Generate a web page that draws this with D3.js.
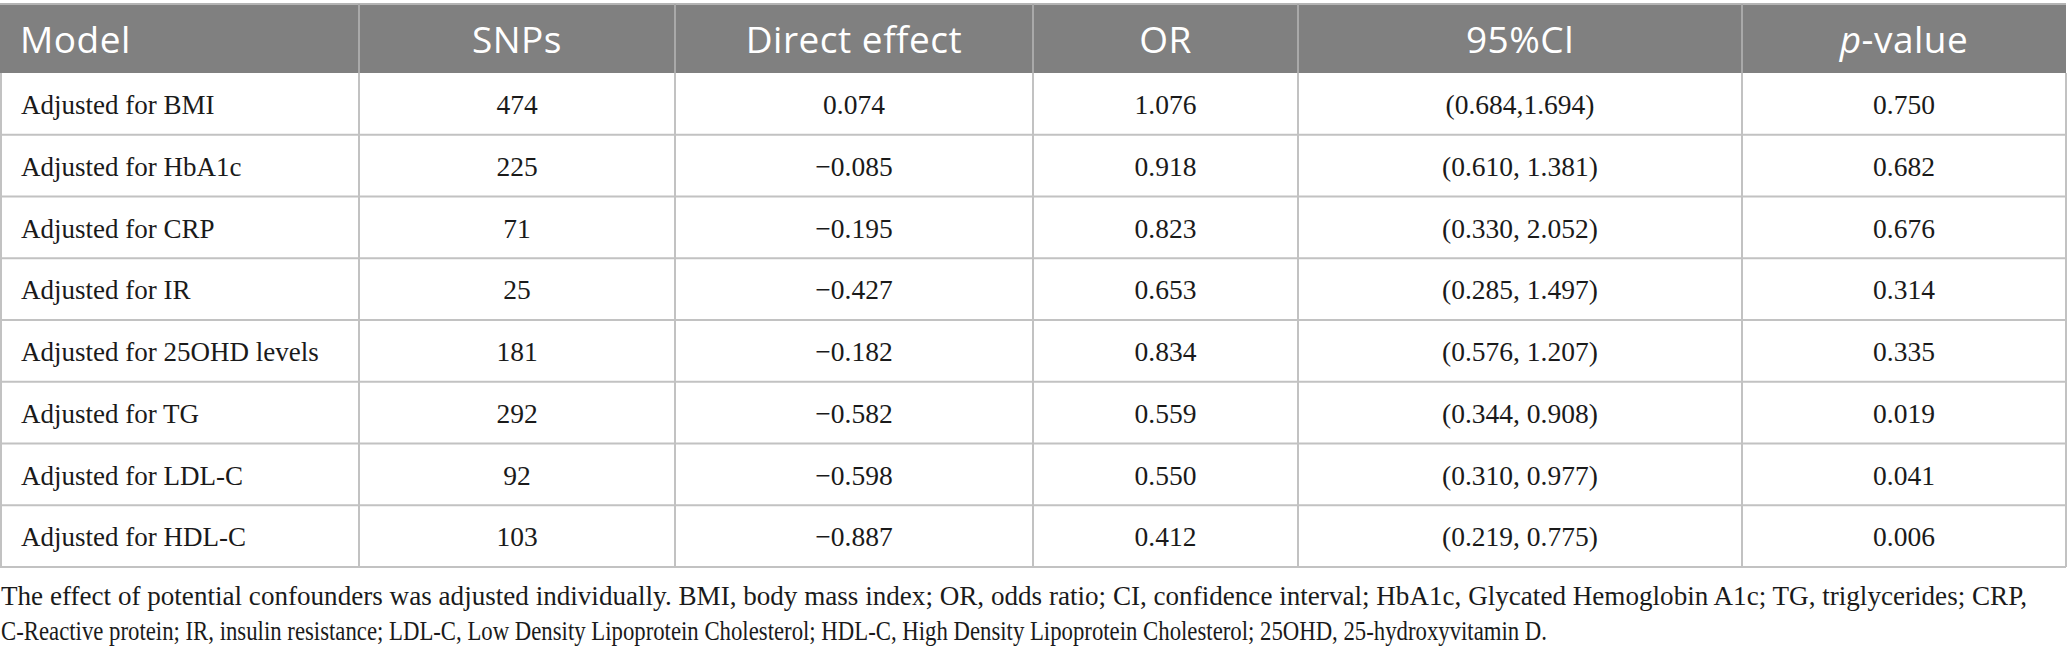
<!DOCTYPE html>
<html><head><meta charset="utf-8">
<script src="https://cdn.jsdelivr.net/npm/d3@7"></script>
<style>
html,body{margin:0;padding:0;background:#fff;}
svg{display:block;}
</style></head>
<body>
<svg id="chart" width="2067" height="658"></svg>
<script>
// ---- data ----
const headers = ["Model", "SNPs", "Direct effect", "OR", "95%Cl", "p-value"];
const models = ["Adjusted for BMI", "Adjusted for HbA1c", "Adjusted for CRP", "Adjusted for IR",
  "Adjusted for 25OHD levels", "Adjusted for TG", "Adjusted for LDL-C", "Adjusted for HDL-C"];
const snps = [474, 225, 71, 25, 181, 292, 92, 103];
const directEffect = [0.074, -0.085, -0.195, -0.427, -0.182, -0.582, -0.598, -0.887];
const oddsRatio = [1.076, 0.918, 0.823, 0.653, 0.834, 0.559, 0.550, 0.412];
const ci95 = ["(0.684,1.694)", "(0.610, 1.381)", "(0.330, 2.052)", "(0.285, 1.497)",
  "(0.576, 1.207)", "(0.344, 0.908)", "(0.310, 0.977)", "(0.219, 0.775)"];
const pValues = [0.750, 0.682, 0.676, 0.314, 0.335, 0.019, 0.041, 0.006];
const footnote = [
  "The effect of potential confounders was adjusted individually. BMI, body mass index; OR, odds ratio; CI, confidence interval; HbA1c, Glycated Hemoglobin A1c; TG, triglycerides; CRP,",
  "C-Reactive protein; IR, insulin resistance; LDL-C, Low Density Lipoprotein Cholesterol; HDL-C, High Density Lipoprotein Cholesterol; 25OHD, 25-hydroxyvitamin D."
];

// ---- layout ----
const colEdges = [0, 359, 675, 1033, 1298, 1742, 2066];
const headTop = 4, headBottom = 73, tableBottom = 567;
const fmt3 = d3.format(".3f");

const svg = d3.select("#chart");
const rowIdx = d3.range(models.length);
const y = d3.scaleBand().domain(rowIdx).range([headBottom, tableBottom]);
const colX = i => colEdges[i];
const colMid = i => (colEdges[i] + colEdges[i+1]) / 2;

const rows = rowIdx.map(i => [models[i], String(snps[i]), fmt3(directEffect[i]), fmt3(oddsRatio[i]), ci95[i], fmt3(pValues[i])]);

// header background
svg.append("rect").attr("x", 0).attr("y", headTop).attr("width", colEdges[6]).attr("height", headBottom - headTop)
  .attr("fill", "#808080");
svg.append("line").attr("x1", 0).attr("x2", colEdges[6]).attr("y1", headTop).attr("y2", headTop)
  .attr("stroke", "#b4b4b4").attr("stroke-width", 2);

// header column separators
svg.selectAll("line.hsep").data(d3.range(1, 6)).join("line").attr("class", "hsep")
  .attr("x1", colX).attr("x2", colX).attr("y1", headTop).attr("y2", headBottom)
  .attr("stroke", "#a9a9a9").attr("stroke-width", 2);

// header text
const ht = svg.selectAll("text.head").data(headers).join("text").attr("class", "head")
  .attr("x", (d, i) => i === 0 ? 20 : colMid(i))
  .attr("y", 53)
  .attr("text-anchor", (d, i) => i === 0 ? "start" : "middle")
  .attr("font-family", "'Open Sans', sans-serif").attr("font-size", 37).attr("font-weight", 400)
  .attr("letter-spacing", 0.5)
  .attr("fill", "#ffffff");
ht.each(function(d) {
  const t = d3.select(this);
  if (d === "p-value") {
    t.append("tspan").attr("font-style", "italic").text("p");
    t.append("tspan").text("-value");
  } else t.text(d);
});

// body grid
const gridColor = "#c2c2c2";
svg.selectAll("line.rowline").data(rowIdx).join("line").attr("class", "rowline")
  .attr("x1", 0).attr("x2", colEdges[6])
  .attr("y1", d => y(d) + y.bandwidth()).attr("y2", d => y(d) + y.bandwidth())
  .attr("stroke", gridColor).attr("stroke-width", 2);
svg.selectAll("line.colline").data(colEdges).join("line").attr("class", "colline")
  .attr("x1", d => d === 0 ? 1 : d).attr("x2", d => d === 0 ? 1 : d)
  .attr("y1", headBottom).attr("y2", tableBottom)
  .attr("stroke", gridColor).attr("stroke-width", 2);

// body cells
const rowG = svg.selectAll("g.row").data(rows).join("g").attr("class", "row")
  .attr("transform", (d, i) => `translate(0,${y(i) + 41})`);
rowG.selectAll("text").data(d => d).join("text")
  .attr("x", (d, i) => i === 0 ? 21 : colMid(i))
  .attr("text-anchor", (d, i) => i === 0 ? "start" : "middle")
  .attr("font-family", "'Liberation Serif', 'Times New Roman', serif")
  .attr("font-size", (d, i) => i === 0 ? 27 : 27.5)
  .attr("fill", "#1a1a1a")
  .text(d => d);

// footnote
const footWidths = [2026, 1546];
svg.selectAll("text.foot").data(footnote).join("text").attr("class", "foot")
  .attr("x", 1).attr("y", (d, i) => 605 + i * 35)
  .attr("font-family", "'Liberation Serif', 'Times New Roman', serif").attr("font-size", 27.5)
  .attr("fill", "#1a1a1a")
  .attr("textLength", (d, i) => footWidths[i]).attr("lengthAdjust", "spacingAndGlyphs")
  .text(d => d);
</script>
</body></html>
